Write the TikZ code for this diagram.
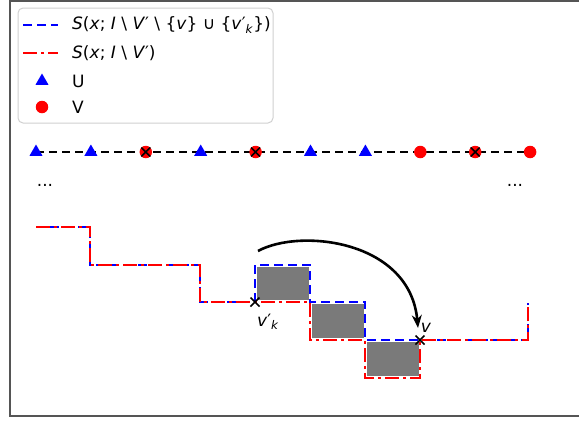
\documentclass[tikz,border=0pt]{standalone}
\usepackage{fontspec}
\setmainfont{DejaVu Sans}
\usepackage{xcolor}
\definecolor{mblue}{HTML}{0000FF}
\definecolor{mred}{HTML}{FF0000}
\definecolor{frame}{HTML}{555555}
\definecolor{legline}{HTML}{D0D0D0}
\definecolor{box}{HTML}{7A7A7A}
\usetikzlibrary{positioning,arrows.meta,shapes.geometric,backgrounds}
\tikzset{
  >={Stealth[length=13pt,width=10pt]},
  txt/.style={font=\fontsize{17}{20}\selectfont,inner sep=0pt},
  newpath/.style={draw=mblue,line width=2.7pt,dash pattern=on 9pt off 5pt},
  oldpath/.style={draw=mred,line width=2.7pt,dash pattern=on 14pt off 4pt on 3pt off 4pt},
  rowline/.style={draw=black,line width=2.7pt,dash pattern=on 8pt off 5pt},
  umark/.style={regular polygon,regular polygon sides=3,fill=mblue,inner sep=0pt,minimum size=15pt},
  vmark/.style={circle,fill=mred,inner sep=0pt,minimum size=12.5pt},
  gapbox/.style={fill=box},
  xcross/.pic={\draw[black,line width=1.6pt] (-4.5,-4.5) -- (4.5,4.5) (-4.5,4.5) -- (4.5,-4.5);},
}
\begin{document}
\begin{tikzpicture}[x=1pt,y=-1pt]
  \useasboundingbox (0,0) rectangle (579,421);
  % axes frame
  \draw[frame,line width=2pt] (579,1) -- (10,1) -- (10,416) -- (579,416);
  % legend
  \draw[legline,line width=1pt,rounded corners=5pt,fill=white] (18,8) rectangle (273,123);
  \draw[newpath] (23,25) -- (58,25);
  \draw[oldpath] (23,53) -- (58,53);
  \node[umark] (legU) at (42,81) {};
  \node[vmark] (legV) at (42,107) {};
  \node[txt,anchor=west] (legnew) at (72,25) {\textit{S}(\textit{x}; \textit{I} \textbackslash{} \textit{V}′ \textbackslash{} \{\textit{v}\} ∪ \{\textit{v}′\textsubscript{\textit{k}}\})};
  \node[txt,anchor=west] (legold) at (72,53) {\textit{S}(\textit{x}; \textit{I} \textbackslash{} \textit{V}′)};
  \node[txt,anchor=west] at (72,81) {U};
  \node[txt,anchor=west] at (72,107) {V};
  % row of elements
  \foreach \i/\s in {0/umark,1/umark,2/vmark,3/umark,4/vmark,5/umark,6/umark,7/vmark,8/vmark,9/vmark}
    {\node[\s] (m\i) at ({36+54.9*\i},152) {};}
  \begin{scope}[on background layer]
    \draw[rowline] (m0.center) -- (m9.center);
  \end{scope}
  \foreach \i in {2,4,8}{\pic at (m\i) {xcross};}
  \node[txt] (dotsL) at (45,185) {...};
  \node[txt] (dotsR) at (515,185) {...};
  % shaded gaps between the two staircases
  \fill[gapbox] (257,267) rectangle (309,300);
  \fill[gapbox] (312,304) rectangle (364,338);
  \fill[gapbox] (367,342) rectangle (419,376);
  % staircases
  \draw[newpath] (36,227) -- (90,227) -- (90,265) -- (200,265) -- (200,302) -- (255,302) -- (255,265) -- (310,265)
    -- (310,302) -- (365,302) -- (365,340) -- (420,340) -- (528,340) -- (528,303);
  \draw[oldpath] (36,227) -- (90,227) -- (90,265) -- (200,265) -- (200,302) -- (310,302) -- (310,340) -- (365,340)
    -- (365,378) -- (420,378) -- (420,340) -- (528,340) -- (528,303);
  \coordinate (vk) at (255,302);
  \coordinate (v) at (420,340);
  \pic at (vk) {xcross};
  \pic at (v) {xcross};
  \node[txt] (vklbl) at (268,322) {\textit{v}′\textsubscript{\textit{k}}};
  \node[txt] (vlbl) at (426,328) {\textit{v}};
  % swap
  \coordinate (arrS) at (258,251);
  \coordinate (arrE) at (418,328);
  \draw[->,line width=2.6pt] (arrS) .. controls (300,228) and (410,240) .. (arrE);
\end{tikzpicture}
\end{document}
